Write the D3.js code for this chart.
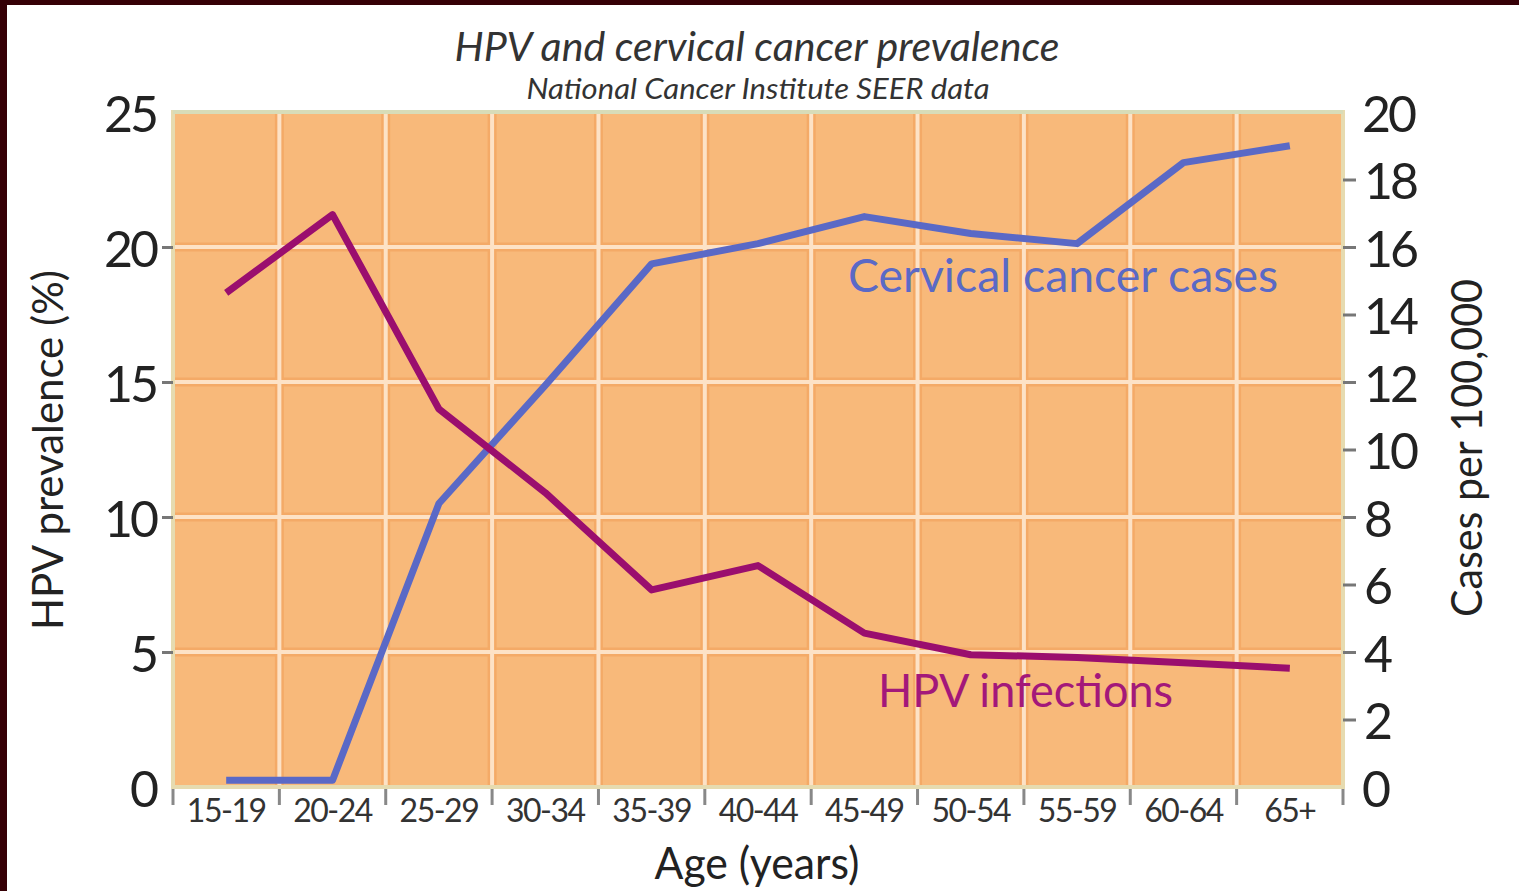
<!DOCTYPE html>
<html lang="en">
<head>
<meta charset="UTF-8" />
<title>HPV and cervical cancer prevalence</title>
<style>
  * { margin: 0; padding: 0; }
  body { background: #fff; width: 1519px; height: 891px; overflow: hidden; }
  svg { display: block; }
</style>
</head>
<body>
<script src="https://d3js.org/d3.v7.min.js"></script>
<script>
// data
const ageGroups = ["15-19", "20-24", "25-29", "30-34", "35-39", "40-44", "45-49", "50-54", "55-59", "60-64", "65+"];
const hpvPrevalence = [18.3, 21.2, 14.0, 10.9, 7.3, 8.2, 5.7, 4.9, 4.8, 4.6, 4.4];
const cancerCases = [0.2, 0.2, 8.4, 11.9, 15.5, 16.1, 16.9, 16.4, 16.1, 18.5, 19.0];
const leftTicks = [0, 5, 10, 15, 20, 25];
const rightTicks = [0, 2, 4, 6, 8, 10, 12, 14, 16, 18, 20];

const W = 1519, H = 891;
const plot = { left: 173, right: 1343, top: 112, bottom: 787 };
const font = "Lato, 'Open Sans', sans-serif";

const svg = d3.select("body").append("svg").attr("width", W).attr("height", H);

// dark frame on top and left
svg.append("rect").attr("x", 0).attr("y", 0).attr("width", W).attr("height", 5).attr("fill", "#360006");
svg.append("rect").attr("x", 0).attr("y", 0).attr("width", 7).attr("height", H).attr("fill", "#360006");

const x = d3.scaleBand().domain(ageGroups).range([plot.left, plot.right]);
const yL = d3.scaleLinear().domain([0, 25]).range([plot.bottom, plot.top]);
const yR = d3.scaleLinear().domain([0, 20]).range([plot.bottom, plot.top]);

// plot background
svg.append("rect")
  .attr("x", plot.left).attr("y", plot.top)
  .attr("width", plot.right - plot.left).attr("height", plot.bottom - plot.top)
  .attr("fill", "#f8b97a");

// grid
const gx = ageGroups.slice(1).map(d => x(d));
const gy = leftTicks.slice(1, -1).map(d => yL(d));
const grid = svg.append("g");
[["#f4aa67", 9], ["#fde2c6", 4]].forEach(([c, w]) => {
  grid.append("g").selectAll("line").data(gx).join("line")
    .attr("x1", d => d).attr("x2", d => d)
    .attr("y1", plot.top).attr("y2", plot.bottom)
    .attr("stroke", c).attr("stroke-width", w);
  grid.append("g").selectAll("line").data(gy).join("line")
    .attr("y1", d => d).attr("y2", d => d)
    .attr("x1", plot.left).attr("x2", plot.right)
    .attr("stroke", c).attr("stroke-width", w);
});

// plot border
svg.append("rect")
  .attr("x", plot.left).attr("y", plot.top)
  .attr("width", plot.right - plot.left).attr("height", plot.bottom - plot.top)
  .attr("fill", "none").attr("stroke", "#e6dbb0").attr("stroke-width", 4);
svg.append("line")
  .attr("x1", plot.left).attr("x2", plot.right).attr("y1", plot.top).attr("y2", plot.top)
  .attr("stroke", "#d8dcb8").attr("stroke-width", 4);

// lines
const cx = d => x(d) + x.bandwidth() / 2;
const hpvLine = d3.line().x((d, i) => cx(ageGroups[i])).y(d => yL(d));
const cancerLine = d3.line().x((d, i) => cx(ageGroups[i])).y(d => yR(d));

svg.append("path").datum(cancerCases).attr("d", cancerLine)
  .attr("fill", "none").attr("stroke", "#5a69c6").attr("stroke-width", 7)
  .attr("stroke-linejoin", "round");
svg.append("path").datum(hpvPrevalence).attr("d", hpvLine)
  .attr("fill", "none").attr("stroke", "#9a0e6e").attr("stroke-width", 7)
  .attr("stroke-linejoin", "round");

// line labels
svg.append("text").attr("x", 848).attr("y", 292)
  .attr("font-family", font).attr("font-size", 46).attr("fill", "#5a69c6")
  .attr("textLength", 430).attr("lengthAdjust", "spacingAndGlyphs")
  .text("Cervical cancer cases");
svg.append("text").attr("x", 878).attr("y", 707)
  .attr("font-family", font).attr("font-size", 46).attr("fill", "#a3187a")
  .attr("textLength", 295).attr("lengthAdjust", "spacingAndGlyphs")
  .text("HPV infections");

// left axis
const axL = svg.append("g").attr("transform", `translate(${plot.left},0)`)
  .call(d3.axisLeft(yL).tickValues(leftTicks).tickSize(11).tickPadding(6));
axL.select(".domain").remove();
axL.selectAll(".tick line").attr("stroke", "#777").attr("stroke-width", 3)
  .attr("opacity", d => (d === 0 || d === 25) ? 0 : 1);
axL.selectAll(".tick text").attr("font-family", font).attr("font-size", 50)
  .attr("fill", "#222").attr("dy", "0.38em").attr("letter-spacing", -3);

// right axis
const axR = svg.append("g").attr("transform", `translate(${plot.right},0)`)
  .call(d3.axisRight(yR).tickValues(rightTicks).tickSize(13).tickPadding(8));
axR.select(".domain").remove();
axR.selectAll(".tick line").attr("stroke", "#777").attr("stroke-width", 3)
  .attr("opacity", d => (d === 0 || d === 20) ? 0 : 1);
axR.selectAll(".tick text").attr("font-family", font).attr("font-size", 50)
  .attr("fill", "#222").attr("dy", "0.38em").attr("letter-spacing", -3)
  .attr("x", d => (d === 0 || d === 20) ? 19 : 21);

// bottom axis: labels centred on bands, ticks on band edges
const axB = svg.append("g").attr("transform", `translate(0,${plot.bottom})`)
  .call(d3.axisBottom(x).tickSize(0).tickPadding(12));
axB.select(".domain").remove();
axB.selectAll(".tick text").attr("font-family", font).attr("font-size", 32)
  .attr("fill", "#333").attr("letter-spacing", -1.5);
svg.append("g").selectAll("line")
  .data(ageGroups.map(d => x(d)).concat([plot.right]))
  .join("line")
  .attr("x1", d => d).attr("x2", d => d)
  .attr("y1", plot.bottom + 2).attr("y2", plot.bottom + 18)
  .attr("stroke", "#888").attr("stroke-width", 3);

// titles
svg.append("text").attr("x", 757).attr("y", 61).attr("text-anchor", "middle")
  .attr("font-family", font).attr("font-style", "italic").attr("font-size", 40)
  .attr("fill", "#333").attr("textLength", 605).attr("lengthAdjust", "spacingAndGlyphs")
  .text("HPV and cervical cancer prevalence");
svg.append("text").attr("x", 758).attr("y", 99).attr("text-anchor", "middle")
  .attr("font-family", font).attr("font-style", "italic").attr("font-size", 29)
  .attr("fill", "#333").attr("textLength", 463).attr("lengthAdjust", "spacingAndGlyphs")
  .text("National Cancer Institute SEER data");

svg.append("text").attr("transform", "translate(63,450) rotate(-90)")
  .attr("text-anchor", "middle").attr("font-family", font).attr("font-size", 42)
  .attr("fill", "#222").attr("textLength", 360).attr("lengthAdjust", "spacingAndGlyphs")
  .text("HPV prevalence (%)");
svg.append("text").attr("transform", "translate(1482,448) rotate(-90)")
  .attr("text-anchor", "middle").attr("font-family", font).attr("font-size", 43)
  .attr("fill", "#222").attr("textLength", 338).attr("lengthAdjust", "spacingAndGlyphs")
  .text("Cases per 100,000");
svg.append("text").attr("x", 757).attr("y", 879).attr("text-anchor", "middle")
  .attr("font-family", font).attr("font-size", 45)
  .attr("fill", "#222").attr("textLength", 205).attr("lengthAdjust", "spacingAndGlyphs")
  .text("Age (years)");
</script>
</body>
</html>
